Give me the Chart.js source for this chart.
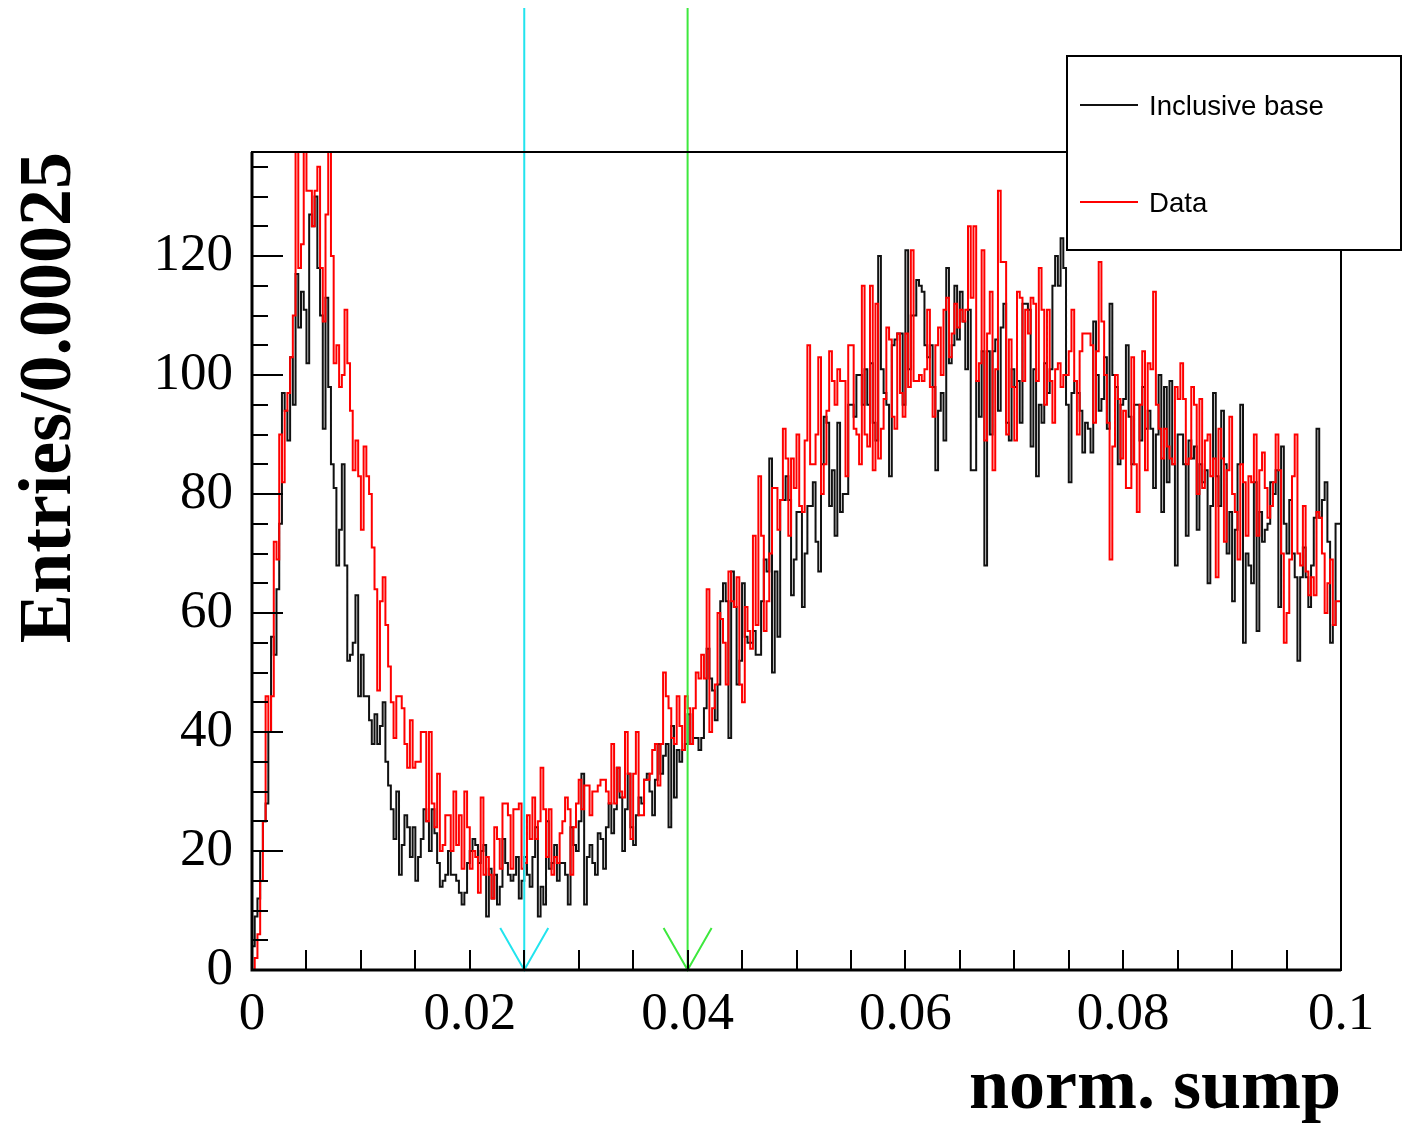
<!DOCTYPE html>
<html>
<head>
<meta charset="utf-8">
<title>norm. sump</title>
<script src="https://cdn.jsdelivr.net/npm/chart.js@4.4.1/dist/chart.umd.min.js"></script>
<style>
  html, body { margin: 0; padding: 0; background: #fff; }
  canvas { display: block; }
</style>
</head>
<body>
<canvas id="sump" width="1402" height="1126"></canvas>
<script>
// histogram binning: 400 bins of 0.00025 on [0, 0.1]
const binWidth = 0.00025;
const xMin = 0;
const xMax = 0.1;
const yMax = 137.5;

const seriesNames = ['Inclusive base', 'Data'];

const inclusiveBase = [
  1, 4, 9, 12, 20, 25, 28, 40, 56, 53, 64, 75, 97, 94, 89, 103, 95, 117, 108, 114,
  111, 102, 127, 125, 130, 118, 110, 91, 113, 98, 85, 81, 68, 74, 85, 68, 52, 53, 55, 63,
  46, 53, 46, 46, 42, 38, 43, 38, 41, 45, 35, 31, 27, 22, 30, 16, 21, 26, 24, 19,
  24, 15, 19, 22, 27, 25, 20, 27, 23, 18, 14, 15, 16, 20, 16, 16, 15, 13, 11, 13,
  18, 20, 22, 21, 18, 20, 21, 9, 17, 12, 16, 11, 14, 22, 18, 16, 15, 16, 19, 12,
  15, 19, 16, 14, 19, 24, 9, 14, 11, 25, 17, 18, 21, 15, 18, 18, 16, 11, 24, 21,
  20, 25, 33, 11, 19, 21, 18, 16, 23, 22, 17, 24, 28, 23, 27, 34, 29, 20, 27, 33,
  24, 21, 26, 29, 28, 32, 33, 30, 26, 32, 38, 33, 36, 38, 24, 41, 29, 37, 35, 37,
  38, 43, 38, 39, 39, 37, 39, 44, 54, 49, 47, 42, 48, 62, 65, 62, 39, 67, 61, 48,
  52, 65, 56, 55, 55, 57, 53, 53, 62, 69, 67, 86, 50, 67, 56, 79, 79, 83, 79, 63,
  69, 77, 77, 61, 70, 78, 78, 82, 72, 67, 85, 93, 92, 78, 84, 73, 92, 77, 80, 80,
  95, 95, 93, 100, 100, 95, 101, 95, 102, 92, 89, 120, 101, 97, 95, 83, 105, 106, 107, 107,
  95, 121, 101, 110, 110, 116, 115, 114, 105, 103, 105, 98, 84, 94, 97, 89, 118, 102, 105, 115,
  106, 114, 109, 101, 111, 84, 84, 99, 93, 104, 68, 104, 90, 104, 106, 94, 108, 112, 92, 89,
  101, 98, 99, 92, 112, 112, 111, 88, 101, 83, 95, 92, 102, 97, 101, 115, 120, 115, 123, 118,
  95, 82, 97, 99, 97, 94, 87, 92, 91, 87, 109, 100, 94, 96, 103, 91, 112, 100, 98, 85,
  95, 96, 105, 93, 85, 95, 95, 89, 98, 91, 94, 91, 81, 90, 100, 77, 98, 82, 99, 85,
  68, 90, 90, 85, 73, 89, 86, 88, 74, 85, 82, 84, 65, 78, 97, 83, 78, 94, 85, 70,
  77, 62, 74, 85, 95, 55, 70, 68, 65, 82, 57, 77, 72, 74, 75, 82, 80, 84, 61, 88,
  75, 70, 79, 70, 66, 52, 66, 71, 66, 61, 68, 76, 91, 76, 79, 82, 72, 55, 58, 75
];

const data = [
  0, 0, 2, 6, 15, 25, 46, 40, 46, 72, 69, 90, 82, 94, 97, 103, 110, 140, 118, 122,
  140, 131, 131, 125, 131, 135, 118, 109, 127, 140, 120, 102, 105, 98, 100, 111, 102, 94, 84, 89,
  83, 74, 88, 83, 80, 71, 64, 47, 62, 66, 58, 51, 45, 39, 46, 46, 44, 38, 34, 42,
  34, 35, 35, 40, 40, 25, 40, 28, 24, 33, 20, 21, 26, 26, 20, 30, 21, 26, 17, 30,
  24, 17, 20, 19, 13, 29, 16, 19, 16, 12, 24, 22, 17, 28, 28, 26, 17, 27, 27, 28,
  17, 18, 26, 22, 29, 22, 25, 34, 27, 19, 27, 16, 19, 18, 23, 25, 29, 27, 16, 24,
  28, 32, 27, 31, 31, 26, 30, 30, 31, 32, 32, 30, 28, 38, 28, 34, 30, 29, 40, 33,
  22, 33, 40, 26, 26, 32, 32, 33, 37, 38, 31, 38, 50, 46, 44, 39, 38, 46, 41, 37,
  46, 44, 38, 44, 50, 49, 53, 49, 64, 40, 44, 48, 60, 59, 55, 48, 67, 62, 61, 66,
  48, 45, 61, 57, 54, 73, 58, 83, 73, 57, 62, 70, 81, 81, 74, 79, 91, 86, 73, 86,
  81, 90, 78, 77, 89, 105, 85, 85, 90, 103, 80, 85, 94, 104, 99, 95, 101, 99, 99, 83,
  105, 105, 91, 90, 85, 115, 90, 88, 115, 84, 112, 86, 91, 96, 108, 106, 93, 91, 107, 97,
  93, 107, 98, 121, 99, 99, 100, 99, 101, 111, 98, 93, 105, 108, 100, 111, 113, 103, 107, 112,
  108, 111, 109, 111, 125, 113, 125, 99, 102, 121, 89, 107, 114, 84, 101, 131, 119, 119, 90, 106,
  98, 89, 114, 113, 99, 111, 107, 113, 112, 99, 118, 111, 95, 111, 99, 92, 101, 102, 98, 100,
  100, 104, 111, 99, 90, 104, 107, 107, 107, 105, 92, 104, 119, 109, 100, 92, 69, 88, 100, 96,
  86, 94, 81, 81, 103, 85, 77, 95, 104, 84, 102, 101, 114, 95, 91, 86, 91, 88, 86, 85,
  98, 96, 102, 96, 85, 86, 98, 95, 80, 96, 81, 89, 90, 83, 86, 66, 91, 86, 72, 84,
  93, 80, 77, 69, 85, 82, 73, 83, 82, 90, 73, 84, 87, 81, 76, 78, 82, 90, 84, 70,
  55, 60, 69, 83, 90, 70, 68, 78, 67, 63, 66, 63, 77, 76, 70, 60, 65, 69, 58, 62
];

// selection cuts shown as vertical lines with open arrow heads
const cutValues = [0.025, 0.04];
const cutColors = ['#22e4ee', '#3de83d'];

const xTickLabels = [0, 0.02, 0.04, 0.06, 0.08, 0.1];
const yTickLabels = [0, 20, 40, 60, 80, 100, 120];

const serif = "'Liberation Serif', 'DejaVu Serif', serif";
const sans = "'Liberation Sans', Arial, sans-serif";

// bin contents -> points for a stepped outline (left edge up from zero, last bin closed at xMax)
function histPoints(values) {
  const pts = [{ x: xMin, y: 0 }];
  values.forEach((v, i) => pts.push({ x: xMin + i * binWidth, y: v }));
  pts.push({ x: xMin + values.length * binWidth, y: values[values.length - 1] });
  return pts;
}

const rootFrame = {
  id: 'rootFrame',
  afterDatasetsDraw(chart) {
    const { ctx, chartArea: a, scales: { x, y } } = chart;
    ctx.save();

    // cut lines
    cutValues.forEach((c, i) => {
      const px = x.getPixelForValue(c);
      ctx.strokeStyle = cutColors[i];
      ctx.lineWidth = 2;
      ctx.beginPath();
      ctx.moveTo(px, 8);
      ctx.lineTo(px, a.bottom);
      ctx.moveTo(px - 24, a.bottom - 42);
      ctx.lineTo(px, a.bottom);
      ctx.lineTo(px + 24, a.bottom - 42);
      ctx.stroke();
    });

    // frame
    ctx.strokeStyle = '#000';
    ctx.lineWidth = 2;
    ctx.strokeRect(a.left, a.top, a.right - a.left, a.bottom - a.top);
    ctx.lineWidth = 3;
    ctx.beginPath();
    ctx.moveTo(a.left, a.top);
    ctx.lineTo(a.left, a.bottom);
    ctx.lineTo(a.right, a.bottom);
    ctx.stroke();

    // ticks, drawn inside the frame
    ctx.lineWidth = 2;
    ctx.beginPath();
    for (let v = 0; v <= yMax; v += 5) {
      const py = Math.round(y.getPixelForValue(v));
      ctx.moveTo(a.left, py);
      ctx.lineTo(a.left + (v % 20 === 0 ? 31 : 16), py);
    }
    for (let k = 0; k <= 20; k++) {
      const px = Math.round(x.getPixelForValue(k * 0.005));
      ctx.moveTo(px, a.bottom);
      ctx.lineTo(px, a.bottom - 20);
    }
    ctx.stroke();
    ctx.restore();
  },
  afterDraw(chart) {
    const { ctx } = chart;
    const box = { left: 1067, top: 56, right: 1401, bottom: 250 };
    ctx.save();
    ctx.fillStyle = '#fff';
    ctx.fillRect(box.left, box.top, box.right - box.left, box.bottom - box.top);
    ctx.strokeStyle = '#000';
    ctx.lineWidth = 2;
    ctx.strokeRect(box.left, box.top, box.right - box.left, box.bottom - box.top);

    ctx.font = '27.6px ' + sans;
    ctx.textBaseline = 'middle';
    ctx.textAlign = 'left';
    chart.data.datasets.forEach((ds, i) => {
      const ly = 105 + i * 97;
      ctx.strokeStyle = ds.borderColor;
      ctx.lineWidth = 2;
      ctx.beginPath();
      ctx.moveTo(1080, ly);
      ctx.lineTo(1138, ly);
      ctx.stroke();
      ctx.fillStyle = '#000';
      ctx.fillText(ds.label, 1149, ly + 2);
    });
    ctx.restore();
  }
};

new Chart(document.getElementById('sump'), {
  type: 'line',
  data: {
    datasets: [
      {
        label: seriesNames[0],
        data: histPoints(inclusiveBase),
        borderColor: '#111111',
        borderWidth: 2,
        stepped: 'after',
        pointRadius: 0,
        fill: false,
        order: 1
      },
      {
        label: seriesNames[1],
        data: histPoints(data),
        borderColor: '#ff0000',
        borderWidth: 2,
        stepped: 'after',
        pointRadius: 0,
        fill: false,
        order: 0
      }
    ]
  },
  options: {
    responsive: false,
    animation: false,
    devicePixelRatio: 1,
    layout: { padding: { top: 152, right: 61, left: 0, bottom: 0 } },
    plugins: {
      legend: { display: false },
      tooltip: { enabled: false }
    },
    scales: {
      x: {
        type: 'linear',
        min: xMin,
        max: xMax,
        afterBuildTicks: s => { s.ticks = xTickLabels.map(v => ({ value: v })); },
        afterFit: s => { s.height = 156; },
        grid: { display: false, drawTicks: false },
        border: { display: false },
        ticks: {
          autoSkip: false,
          maxRotation: 0,
          padding: 13,
          color: '#000',
          font: { family: serif, size: 53 },
          callback: v => String(+v.toFixed(2))
        },
        title: {
          display: true,
          text: 'norm. sump',
          align: 'end',
          color: '#000',
          font: { family: serif, size: 72, weight: 'bold', lineHeight: 1.0 },
          padding: { top: 0, bottom: 1 }
        }
      },
      y: {
        type: 'linear',
        min: 0,
        max: yMax,
        afterBuildTicks: s => { s.ticks = yTickLabels.map(v => ({ value: v })); },
        afterFit: s => { s.width = 252; },
        grid: { display: false, drawTicks: false },
        border: { display: false },
        ticks: {
          padding: 19,
          color: '#000',
          font: { family: serif, size: 53 }
        },
        title: {
          display: true,
          text: 'Entries/0.00025',
          align: 'end',
          color: '#000',
          font: { family: serif, size: 74, weight: 'bold' },
          padding: { top: 6, bottom: 0 }
        }
      }
    }
  },
  plugins: [rootFrame]
});
</script>
</body>
</html>
